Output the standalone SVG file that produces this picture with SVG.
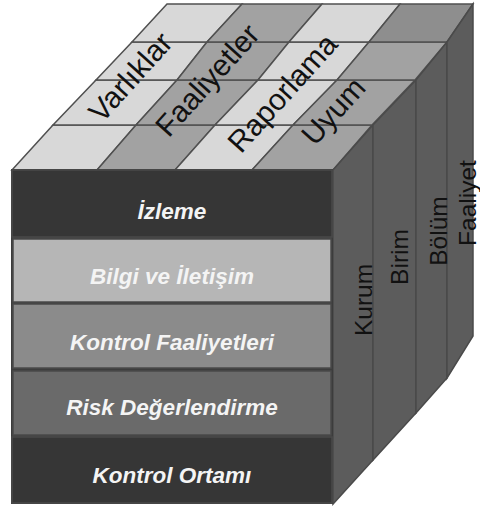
<svg xmlns="http://www.w3.org/2000/svg" width="480" height="508" viewBox="0 0 480 508">
<style>
.cl{fill:#d8d8d8;stroke:#505050;stroke-width:1.5}
.cm{fill:#a2a2a2;stroke:#505050;stroke-width:1.5}
.cd{fill:#8e8e8e;stroke:#505050;stroke-width:1.5}
.rs{fill:#5c5c5c;stroke:#4a4a4a;stroke-width:1.5}
.row{stroke:#4a4a4a;stroke-width:1.5}
.ft{font-family:"Liberation Sans",Arial,sans-serif;font-weight:bold;font-style:italic;font-size:22.5px;text-anchor:middle;fill:#f4f4f4}
.tt{font-family:"Liberation Sans",Arial,sans-serif;font-size:30px;text-anchor:middle;fill:#111}
.st{font-family:"Liberation Sans",Arial,sans-serif;font-size:24.5px;text-anchor:middle;fill:#111}
</style>
<rect width="480" height="508" fill="#ffffff"/>
<g id="top-face">
<polygon class="cl" points="12,170 97,170 136,125 53,125"/>
<polygon class="cm" points="97,170 175,170 215,125 136,125"/>
<polygon class="cl" points="175,170 252,170 293,125 215,125"/>
<polygon class="cm" points="252,170 333,170 372,125 293,125"/>
<polygon class="cl" points="53,125 136,125 177,80 96,80"/>
<polygon class="cm" points="136,125 215,125 258,80 177,80"/>
<polygon class="cl" points="215,125 293,125 337,80 258,80"/>
<polygon class="cm" points="293,125 372,125 415,80 337,80"/>
<polygon class="cl" points="96,80 177,80 207,42 132,42"/>
<polygon class="cm" points="177,80 258,80 289,42 207,42"/>
<polygon class="cl" points="258,80 337,80 369,42 289,42"/>
<polygon class="cm" points="337,80 415,80 447,42 369,42"/>
<polygon class="cl" points="132,42 207,42 242,4 167,4"/>
<polygon class="cm" points="207,42 289,42 322,4 242,4"/>
<polygon class="cl" points="289,42 369,42 400,4 322,4"/>
<polygon class="cd" points="369,42 447,42 473,4 400,4"/>
</g>
<g id="top-labels">
<text class="tt" transform="translate(138,84) rotate(-48)">Varlıklar</text>
<text class="tt" transform="translate(215,87) rotate(-48)">Faaliyetler</text>
<text class="tt" transform="translate(290,100) rotate(-48)">Raporlama</text>
<text class="tt" transform="translate(341,118) rotate(-48)">Uyum</text>
</g>
<g id="right-face">
<polygon class="rs" points="333,170 373,125 373,460 333,504"/>
<polygon class="rs" points="373,125 416,80 416,413 373,460"/>
<polygon class="rs" points="416,80 447,42 447,378 416,413"/>
<polygon class="rs" points="447,42 473,4 473,336 447,378"/>
</g>
<g id="right-labels">
<text class="st" transform="translate(372,300) rotate(-90)">Kurum</text>
<text class="st" transform="translate(408,257) rotate(-90)">Birim</text>
<text class="st" transform="translate(447,231) rotate(-90)">Bölüm</text>
<text class="st" transform="translate(476,203) rotate(-90)">Faaliyet</text>
</g>
<g id="front-face">
<rect x="11" y="169" width="322" height="335" fill="#3c3c3c"/>
<g id="row-izleme"><rect class="row" x="12" y="170" width="320" height="67" fill="#363636"/><text class="ft" x="172" y="219">İzleme</text></g>
<g id="row-bilgi"><rect class="row" x="13" y="239" width="318" height="63" fill="#b6b6b6"/><text class="ft" x="172" y="284">Bilgi ve İletişim</text></g>
<g id="row-kontrol-faaliyetleri"><rect class="row" x="13" y="304" width="318" height="64" fill="#8b8b8b"/><text class="ft" x="172" y="350">Kontrol Faaliyetleri</text></g>
<g id="row-risk"><rect class="row" x="13" y="371" width="318" height="64" fill="#6a6a6a"/><text class="ft" x="172" y="415">Risk Değerlendirme</text></g>
<g id="row-ortam"><rect class="row" x="12" y="437" width="320" height="66" fill="#363636"/><text class="ft" x="172" y="483">Kontrol Ortamı</text></g>
</g>
</svg>
